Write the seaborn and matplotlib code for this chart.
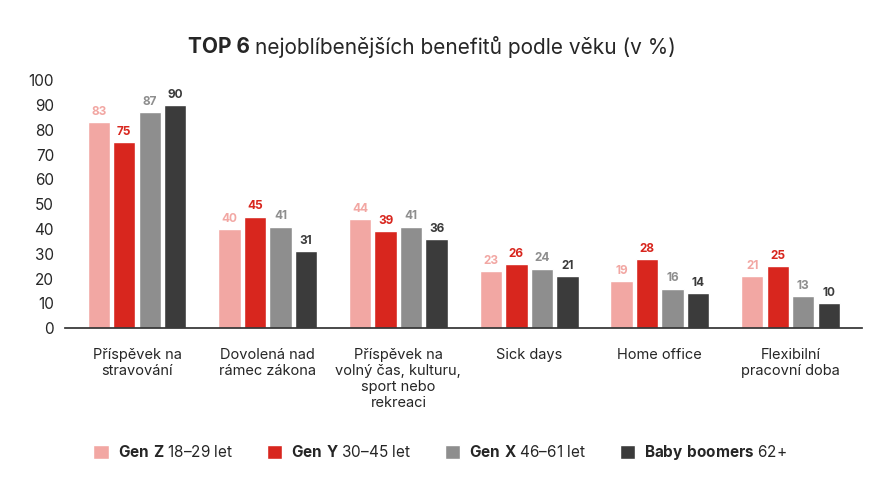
import matplotlib
matplotlib.use("Agg")
import matplotlib.pyplot as plt
import seaborn as sns
import pandas as pd

categories = ["Příspěvek na\nstravování", "Dovolená nad\nrámec zákona",
              "Příspěvek na\nvolný čas, kulturu,\nsport nebo\nrekreaci",
              "Sick days", "Home office", "Flexibilní\npracovní doba"]
gen_z = [83, 40, 44, 23, 19, 21]
gen_y = [75, 45, 39, 26, 28, 25]
gen_x = [87, 41, 41, 24, 16, 13]
boomers = [90, 31, 36, 21, 14, 10]
series_names = [r"$\bf{Gen\ Z}$ 18–29 let", r"$\bf{Gen\ Y}$ 30–45 let",
                r"$\bf{Gen\ X}$ 46–61 let", r"$\bf{Baby\ boomers}$ 62+"]
colors = ["#F2A7A3", "#D8261E", "#8E8E8E", "#3B3B3B"]

sns.set_theme(style="white")
plt.rcParams['font.family'] = ['Inter', 'DejaVu Sans']
plt.rcParams['mathtext.fontset'] = 'custom'
plt.rcParams['mathtext.bf'] = 'Inter:bold'
plt.rcParams['mathtext.rm'] = 'Inter'

rows = []
for name, vals in zip(series_names, [gen_z, gen_y, gen_x, boomers]):
    for c, v in zip(categories, vals):
        rows.append({"cat": c, "val": v, "ser": name})
df = pd.DataFrame(rows)

fig = plt.figure(figsize=(8.8, 4.95), dpi=100)
ax = fig.add_axes([0.074, 0.337, 0.906, 0.501])
sns.barplot(data=df, x="cat", y="val", hue="ser", palette=colors, ax=ax,
            width=0.78, gap=0.12, saturation=1, legend=True)
for cont, col in zip(ax.containers, colors):
    ax.bar_label(cont, fmt="%d", padding=3, color=col, fontsize=8.5, fontweight="bold")
ax.set_ylim(0, 100)
ax.set_yticks(range(0, 101, 10))
ax.tick_params(axis="y", labelsize=11, length=0, pad=8)
ax.tick_params(axis="x", labelsize=10.5, length=0, pad=14)
ax.set_xlabel("")
ax.set_ylabel("")
for s in ["top", "right", "left"]:
    ax.spines[s].set_visible(False)
ax.spines["bottom"].set_color("#333333")
ax.set_xlim(-0.55, 5.55)

h, l = ax.get_legend_handles_labels()
ax.get_legend().remove()
fig.legend(h, l, loc="center", bbox_to_anchor=(0.5, 0.085), ncol=4, frameon=False,
           fontsize=11, handlelength=1.0, handleheight=1.0, columnspacing=2.2,
           handletextpad=0.6)

fig.text(0.29, 0.905, "TOP 6 ", ha="right", va="center", fontsize=15, fontweight="bold")
fig.text(0.29, 0.905, "nejoblíbenějších benefitů podle věku (v %)",
         ha="left", va="center", fontsize=15)
fig.savefig("out.png", dpi=100)
